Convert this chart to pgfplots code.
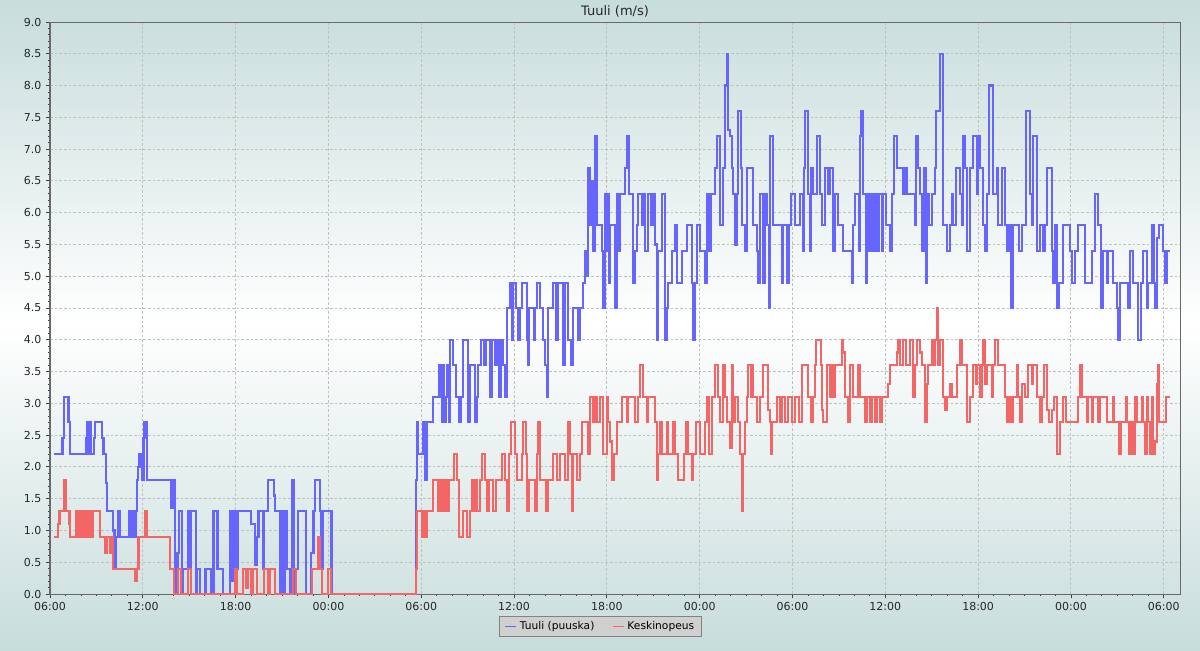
\documentclass[border=0pt]{standalone}
\usepackage{fontspec}
\setmainfont{DejaVu Sans}
\usepackage{pgfplots}
\pgfplotsset{compat=1.18}

\definecolor{bgedge}{RGB}{199,221,219}
\definecolor{gustblue}{RGB}{102,102,255}
\definecolor{meanred}{RGB}{244,102,102}
\definecolor{gridgray}{RGB}{192,192,192}
\definecolor{framegray}{RGB}{105,105,105}
\definecolor{legfill}{RGB}{208,208,208}
\definecolor{legdraw}{RGB}{130,130,130}

\begin{document}
\begin{tikzpicture}
\useasboundingbox (0,0) rectangle (900pt,487.5pt);
\shade[top color=bgedge, bottom color=bgedge, middle color=white] (0,0) rectangle (900pt,487.5pt);
\begin{axis}[
    at={(37.5pt,42pt)}, anchor=south west,
    scale only axis, width=847.5pt, height=429pt,
    xmin=0, xmax=73.05, ymin=0, ymax=9,
    xtick={0,6,...,72},
    xticklabels={06:00,12:00,18:00,00:00,06:00,12:00,18:00,00:00,06:00,12:00,18:00,00:00,06:00},
    ytick={0,0.5,...,9},
    minor x tick num=5, minor y tick num=4,
    yticklabel style={/pgf/number format/.cd, fixed, fixed zerofill, precision=1},
    /pgf/number format/assume math mode=true,
    tick label style={font=\fontsize{8.25}{10}\selectfont, text=black!85},
    tick align=outside, tick pos=left,
    major tick length=3pt, minor tick length=1.6pt,
    tick style={draw=black!75, line width=0.6pt},
    axis line style={draw=framegray, line width=0.75pt},
    grid=major,
    major grid style={draw=gridgray, line width=0.75pt, dash pattern=on 2pt off 1.5pt},
    title={Tuuli (m/s)},
    every axis title/.style={at={(0.5,1.0192)}, anchor=center, font=\fontsize{9.75}{12}\selectfont, text=black!85},
    legend style={at={(0.4872,-0.0568)}, anchor=center, legend columns=2,
        fill=legfill, draw=legdraw, line width=0.75pt,
        font=\fontsize{8}{9.5}\selectfont, inner xsep=3.5pt, inner ysep=1.5pt,
        /tikz/every even column/.append style={column sep=11pt}},
    legend image code/.code={\draw[#1, line width=1.3pt] (0pt,0pt) -- (8.5pt,0pt);},
    const plot, line join=miter,
]
\addplot[gustblue, line width=1.6pt] coordinates {
(0.26,2.2)(0.81,2.45)(0.90,3.1)(1.20,2.7)(1.29,2.2)(2.33,2.45)(2.39,2.7)(2.49,2.2)(2.59,2.7)(2.65,2.2)(2.84,2.45)(2.91,2.7)(3.36,2.45)(3.46,2.2)(3.62,1.75)(3.68,1.3)(4.07,1.0)(4.17,0.9)(4.20,0.4)(4.27,0.9)(4.40,1.3)(4.52,0.9)(5.11,1.3)(5.17,0.9)(5.24,1.3)(5.30,0.9)(5.37,1.3)(5.43,0.9)(5.56,1.3)(5.62,1.8)(5.69,2.0)(5.79,2.2)(5.95,1.8)(6.04,2.45)(6.11,2.7)(6.27,1.8)(7.85,1.35)(7.92,1.8)(8.08,0)(8.24,0.65)(8.34,1.3)(8.53,0)(8.60,0.4)(8.92,1.3)(9.02,0.4)(9.08,1.3)(9.44,0)(9.50,0.4)(9.70,0)(10.05,0.4)(10.41,0)(10.57,1.3)(10.83,0.4)(11.18,0)(11.64,1.3)(11.76,0.2)(11.83,1.3)(11.96,0.4)(12.12,1.3)(12.99,1.1)(13.25,0.45)(13.38,0.9)(13.48,1.3)(13.77,0.4)(13.83,1.3)(14.09,1.8)(14.48,1.55)(14.54,1.3)(14.87,0)(15.00,1.3)(15.06,0)(15.19,1.3)(15.32,0.4)(15.51,0)(15.68,1.8)(15.77,0)(15.90,0.4)(16.03,1.3)(16.55,0)(16.90,0.65)(17.03,1.3)(17.13,1.8)(17.45,1.3)(17.55,0.4)(17.65,1.3)(18.20,0)
(23.66,1.8)(23.72,2.7)(23.81,2.2)(24.09,2.7)(24.24,1.8)(24.39,2.7)(24.78,3.1)(25.16,3.6)(25.27,3.1)(25.32,2.7)(25.42,3.6)(25.49,2.7)(25.60,3.1)(25.68,3.6)(25.77,2.7)(25.86,4.0)(26.03,3.6)(26.24,3.1)(26.46,2.7)(26.55,3.1)(26.68,4.0)(27.02,2.7)(27.15,3.6)(27.49,2.7)(27.58,3.1)(27.69,3.6)(27.84,4.0)(28.05,3.6)(28.18,4.0)(28.44,3.1)(28.57,4.0)(28.79,3.6)(28.91,4.0)(29.04,3.1)(29.13,4.0)(29.30,3.6)(29.41,3.1)(29.52,4.5)(29.73,4.9)(29.86,4.0)(29.95,4.9)(30.12,4.5)(30.27,4.0)(30.38,4.5)(30.49,4.9)(30.81,4.0)(30.90,3.6)(30.98,4.5)(31.29,4.0)(31.37,4.5)(31.50,4.9)(31.67,4.5)(31.89,4.0)(32.02,3.6)(32.11,3.1)(32.21,4.5)(32.50,4.9)(32.71,4.0)(32.86,4.9)(33.18,3.6)(33.31,4.9)(33.50,4.0)(33.66,3.6)(33.83,4.5)(34.15,4.0)(34.26,4.5)(34.43,4.9)(34.58,5.4)(34.69,5.0)(34.80,6.7)(34.91,5.8)(35.02,6.5)(35.12,5.4)(35.23,7.2)(35.34,5.8)(35.66,5.4)(35.77,4.5)(35.88,6.3)(35.99,5.4)(36.05,6.3)(36.12,4.9)(36.20,5.8)(36.52,4.5)(36.63,6.3)(36.74,5.4)(36.85,6.3)(37.19,6.7)(37.28,7.2)(37.41,6.3)(37.71,4.9)(37.82,5.4)(37.93,5.8)(38.03,6.3)(38.25,5.8)(38.31,6.3)(38.46,5.4)(38.68,6.3)(38.83,5.8)(38.96,6.3)(39.11,5.5)(39.22,4.0)(39.32,5.4)(39.54,6.3)(39.75,4.0)(39.86,4.5)(39.97,4.9)(40.19,5.4)(40.40,5.8)(40.51,4.9)(40.83,5.4)(41.16,5.8)(41.48,4.9)(41.58,4.0)(41.69,4.9)(41.80,5.8)(42.02,5.4)(42.34,4.9)(42.45,6.3)(42.62,5.4)(42.71,6.3)(42.99,6.7)(43.10,7.2)(43.31,5.8)(43.52,6.7)(43.63,8.0)(43.74,8.5)(43.85,7.3)(43.96,7.2)(44.07,6.7)(44.17,6.3)(44.28,5.5)(44.39,6.3)(44.49,7.6)(44.65,6.7)(44.71,5.8)(44.93,5.4)(45.04,6.7)(45.46,5.8)(45.68,5.4)(45.79,4.9)(45.90,6.3)(46.11,4.9)(46.22,6.3)(46.37,5.8)(46.48,4.5)(46.54,7.2)(46.76,5.8)
(47.30,4.9)(47.40,5.8)(47.66,4.9)(47.79,5.8)(47.88,6.3)(48.16,5.8)(48.48,6.3)(48.70,5.4)(48.74,6.7)(48.82,7.6)(49.02,6.3)(49.13,5.4)(49.19,6.7)(49.34,6.3)(49.56,7.2)(49.77,6.3)(49.88,5.8)(50.10,6.7)(50.31,6.3)(50.42,6.7)(50.60,5.4)(50.74,6.3)(50.96,5.8)(51.28,5.4)(51.82,4.9)(51.93,5.8)(52.04,6.3)(52.31,5.4)(52.36,7.2)(52.42,7.6)(52.57,6.3)(52.75,4.9)(52.81,6.3)(52.96,5.4)(53.05,6.3)(53.22,5.4)(53.33,6.3)(53.48,5.4)(53.61,6.3)(53.76,5.4)(53.87,6.3)(54.04,5.8)(54.30,5.4)(54.41,6.3)(54.58,7.2)(54.73,6.7)(55.16,6.3)(55.27,6.7)(55.42,6.3)(55.92,5.8)(55.98,7.2)(56.13,6.7)(56.24,6.3)(56.35,5.4)(56.50,6.7)(56.61,4.9)(56.67,6.3)(56.84,5.8)(56.99,6.3)(57.21,6.7)(57.27,7.6)(57.53,8.5)(57.70,5.8)(57.96,5.4)(58.18,5.8)(58.29,6.3)(58.39,5.8)(58.57,6.7)(58.82,6.3)(58.93,5.8)(59.04,7.2)(59.15,6.7)(59.26,5.4)(59.47,6.7)(59.68,7.2)(59.90,6.3)(59.99,7.2)(60.12,6.7)(60.33,5.8)(60.44,5.4)(60.55,6.3)(60.72,8.0)(60.98,6.3)(61.20,6.7)(61.30,5.8)(61.52,6.7)(61.73,5.8)(61.84,5.4)(62.01,5.8)(62.10,4.5)(62.23,5.8)(62.66,5.4)(62.81,5.8)(63.09,7.6)(63.35,6.3)(63.46,5.8)(63.56,7.2)(63.78,5.4)(64.00,5.8)(64.17,5.4)(64.32,5.8)(64.47,6.7)(64.75,5.4)(64.86,4.9)(64.96,5.8)(65.11,4.5)(65.24,4.9)(65.50,5.8)(65.93,5.4)(66.04,4.9)(66.26,5.4)(66.47,5.8)(66.90,4.9)(67.34,5.4)(67.55,6.3)(67.76,5.8)(67.92,4.5)(68.09,5.4)(68.31,4.9)(68.41,5.4)(68.73,4.9)(68.95,4.5)(69.06,4.0)(69.17,4.9)(69.70,4.5)(69.81,5.4)(70.03,4.9)(70.35,4.0)(70.51,4.9)(70.67,5.4)(70.89,4.5)(71.00,4.9)(71.22,5.8)(71.37,4.9)(71.45,4.5)(71.58,5.6)(71.67,5.8)(71.93,5.4)(72.08,4.9)(72.19,5.4)(72.40,5.4)
};
\addlegendentry{Tuuli (puuska)}
\addplot[meanred, line width=1.6pt] coordinates {
(0.26,0.9)(0.52,1.1)(0.61,1.3)(0.94,1.8)(1.03,1.3)(1.26,1.1)(1.29,0.9)(1.68,1.3)(1.75,0.9)(1.81,1.3)(1.87,0.9)(2.00,1.3)(2.07,0.9)(2.20,1.3)(2.29,0.9)(2.39,1.3)(2.49,0.9)(2.59,1.3)(2.65,0.9)(2.78,1.3)(3.23,0.9)(3.59,0.65)(3.68,0.9)(3.88,0.65)(4.01,0.9)(4.10,0.4)(5.49,0.2)(5.59,0.4)(5.72,0.9)(6.14,1.3)(6.24,0.9)(7.76,0.4)(8.02,0)(8.27,0.4)(8.47,0)(8.92,0.4)(9.11,0)(11.96,0.4)(12.09,0)(12.48,0.4)(12.67,0.1)(12.80,0.4)(12.99,0)(13.12,0.4)(13.38,0)(13.83,0.4)(14.09,0)(14.22,0.4)(14.54,0)(15.71,0.4)(15.90,0)(16.94,0.4)(17.32,0.9)(17.45,0.4)(17.58,0)(17.97,0.4)(18.16,0)
(23.66,0.4)(23.70,0.9)(23.74,1.3)(24.03,0.9)(24.13,1.3)(24.24,0.9)(24.35,1.3)(24.78,1.8)(25.10,1.3)(25.16,1.8)(25.26,1.3)(25.34,1.8)(25.47,1.3)(25.55,1.8)(25.68,1.3)(25.77,1.8)(26.14,2.2)(26.29,1.8)(26.46,0.9)(26.72,1.3)(26.94,0.9)(27.15,1.3)(27.26,1.8)(27.36,1.3)(27.47,1.8)(27.62,1.3)(27.80,1.8)(27.91,2.2)(28.12,1.8)(28.27,1.3)(28.40,1.8)(28.62,1.3)(28.83,1.8)(29.20,2.2)(29.41,1.8)(29.52,1.3)(29.65,2.2)(29.78,2.7)(30.06,2.2)(30.17,1.8)(30.49,2.2)(30.59,2.7)(30.77,2.2)(30.85,1.3)(30.98,1.8)(31.35,1.3)(31.46,2.2)(31.56,2.7)(31.67,1.8)(32.06,1.3)(32.17,1.8)(32.50,2.2)(32.75,1.8)(32.97,2.2)(33.29,1.8)(33.50,2.7)(33.61,2.2)(33.74,1.3)(33.83,2.2)(34.05,1.8)(34.26,2.2)(34.37,2.7)(34.80,2.2)(34.91,3.1)(35.12,2.7)(35.23,3.1)(35.34,2.7)(35.55,3.1)(35.77,2.2)(35.99,3.1)(36.09,2.7)(36.20,2.4)(36.31,1.8)(36.46,2.2)(36.63,2.7)(36.96,3.1)(37.28,2.7)(37.38,3.1)(37.82,2.7)(38.03,3.1)(38.14,3.6)(38.31,3.1)(38.57,2.7)(38.68,3.1)(39.11,2.7)(39.22,1.8)(39.32,2.2)(39.43,2.7)(39.54,2.2)(39.86,2.7)(39.97,2.2)(40.25,2.7)(40.40,2.2)(40.61,1.8)(40.98,2.2)(41.11,2.7)(41.26,2.2)(41.48,1.8)(41.58,2.2)(41.76,2.7)(42.02,2.2)(42.34,2.7)(42.49,3.1)(42.62,2.2)(42.77,3.1)(42.99,3.6)(43.20,3.1)(43.31,2.7)(43.52,3.6)(43.63,3.1)(43.74,2.7)(43.96,2.3)(44.07,3.6)(44.17,2.7)(44.28,3.1)(44.49,2.7)(44.60,2.2)(44.71,1.3)(44.78,2.2)(44.93,2.7)(45.04,3.1)(45.14,3.6)(45.29,3.1)(45.38,3.6)(45.46,3.1)(45.68,2.7)(45.90,3.1)(46.11,3.6)(46.43,2.9)(46.54,2.7)(46.59,2.2)(46.65,2.7)(46.98,3.1)(47.19,2.7)(47.30,3.1)(47.51,2.7)(47.73,3.1)(47.94,2.7)
(48.16,3.1)(48.44,2.7)(48.59,3.6)(49.02,3.1)(49.17,2.7)(49.34,3.1)(49.45,3.6)(49.51,4.0)(49.84,3.6)(49.92,2.9)(49.99,2.7)(50.21,3.6)(50.42,3.1)(50.53,3.6)(50.64,3.1)(50.74,3.6)(51.18,4.0)(51.28,3.8)(51.39,3.1)(51.60,2.7)(51.71,3.6)(51.93,3.1)(52.25,3.6)(52.36,3.1)(52.68,2.7)(52.79,3.1)(53.01,2.7)(53.11,3.1)(53.33,2.7)(53.44,3.1)(53.65,2.7)(53.76,3.1)(54.19,3.3)(54.30,3.6)(54.73,3.8)(54.84,4.0)(54.95,3.6)(55.16,4.0)(55.33,3.6)(55.59,4.0)(55.81,3.1)(55.92,3.6)(56.02,4.0)(56.24,3.8)(56.35,3.6)(56.56,2.7)(56.67,3.3)(56.78,3.6)(56.99,4.0)(57.10,3.6)(57.21,4.0)(57.32,4.5)(57.42,3.6)(57.53,4.0)(57.74,3.1)(57.85,2.9)(57.96,3.1)(58.18,3.3)(58.29,3.1)(58.61,3.6)(58.82,4.0)(58.93,3.6)(59.26,2.7)(59.47,3.1)(59.68,3.6)(59.86,3.3)(59.94,3.6)(60.12,3.1)(60.23,3.6)(60.33,4.0)(60.44,3.3)(60.55,3.6)(60.87,3.1)(60.98,3.6)(61.09,4.0)(61.30,3.6)(61.73,3.1)(61.84,2.7)(62.01,3.1)(62.10,2.7)(62.27,3.1)(62.49,3.6)(62.59,3.1)(62.70,2.7)(62.81,3.3)(63.03,3.1)(63.24,3.6)(63.46,3.3)(63.56,3.6)(63.78,3.1)(64.00,2.7)(64.10,3.1)(64.25,3.6)(64.43,2.9)(64.60,2.7)(64.75,2.9)(64.90,3.1)(65.11,2.2)(65.29,2.7)(65.50,3.1)(65.68,2.7)(66.47,3.1)(66.58,3.6)(66.73,3.1)(67.01,2.7)(67.12,3.1)(67.34,2.7)(67.44,3.1)(67.76,2.7)(67.87,3.1)(68.31,2.7)(68.73,3.1)(68.80,2.7)(69.12,2.2)(69.21,2.7)(69.56,3.1)(69.64,2.7)(69.77,2.2)(69.86,2.7)(70.03,2.2)(70.12,3.1)(70.25,2.7)(70.57,3.1)(70.67,2.7)(70.78,2.2)(70.89,3.1)(71.00,2.7)(71.11,2.2)(71.22,3.1)(71.32,2.2)(71.43,2.4)(71.54,3.3)(71.60,3.6)(71.71,2.7)(72.14,3.1)(72.40,3.1)
};
\addlegendentry{Keskinopeus}
\end{axis}
\end{tikzpicture}
\end{document}
